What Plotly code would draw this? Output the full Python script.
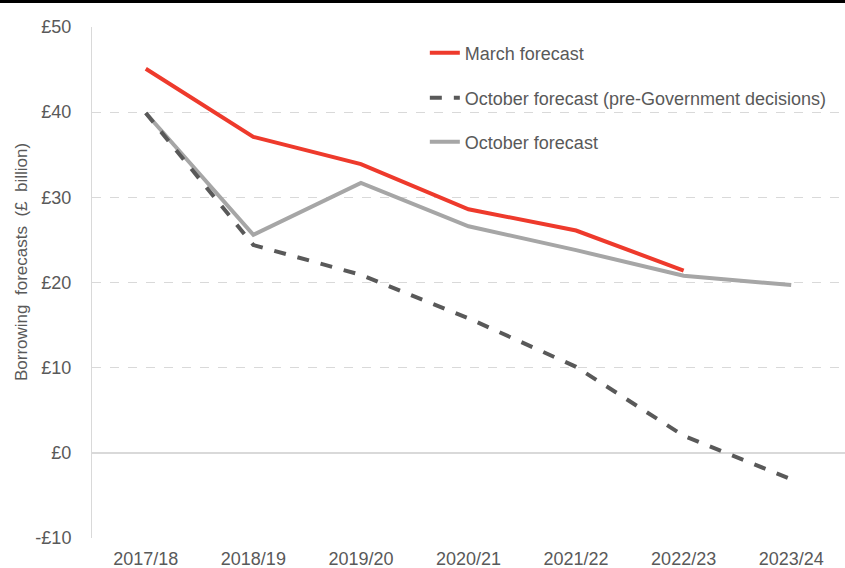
import plotly.graph_objects as go

years = ["2017/18", "2018/19", "2019/20", "2020/21", "2021/22", "2022/23", "2023/24"]
march = [45.1, 37.1, 33.9, 28.6, 26.1, 21.4, None]
october_pre = [39.9, 24.4, 20.9, 15.8, 10.1, 2.0, -3.1]
october = [39.9, 25.6, 31.7, 26.6, 23.8, 20.8, 19.7]

y_ticks = [-10, 0, 10, 20, 30, 40, 50]
y_labels = ["-£10", "£0", "£10", "£20", "£30", "£40", "£50"]

font = "Liberation Sans, Arial, sans-serif"
txt = "#595959"

fig = go.Figure()
fig.add_trace(go.Scatter(x=years, y=october, mode="lines", name="October forecast",
                         line=dict(color="#a6a6a6", width=4), legend="legend3"))
fig.add_trace(go.Scatter(x=years, y=october_pre, mode="lines",
                         name="October forecast (pre-Government decisions)",
                         line=dict(color="#595959", width=4, dash="dash"), legend="legend2"))
fig.add_trace(go.Scatter(x=years, y=march, mode="lines", name="March forecast",
                         line=dict(color="#ee3a2c", width=4), legend="legend"))

leg = dict(bgcolor="rgba(0,0,0,0)", font=dict(family=font, size=18, color=txt),
           xanchor="left", yanchor="middle", itemwidth=30, borderwidth=0)

fig.update_layout(
    width=845, height=568,
    margin=dict(l=92, r=0, t=27, b=30),
    plot_bgcolor="white", paper_bgcolor="white",
    showlegend=True,
    font=dict(family=font, size=18, color=txt),
    legend=dict(leg, x=0.442, y=(538 - 53) / 511),
    legend2=dict(leg, x=0.442, y=(538 - 98) / 511),
    legend3=dict(leg, x=0.442, y=(538 - 142) / 511),
    xaxis=dict(range=[-0.5, 6.5], showgrid=False, showline=False, automargin=False,
               ticks="outside", ticklen=4, tickcolor="rgba(0,0,0,0)",
               tickfont=dict(size=18, color=txt)),
    yaxis=dict(range=[-10, 50], tickvals=y_ticks, ticktext=y_labels, automargin=False,
               showgrid=True, gridcolor="#d9d9d9", griddash="dash", gridwidth=1,
               zeroline=True, zerolinecolor="#d9d9d9", zerolinewidth=1.5,
               showline=True, linecolor="#d9d9d9", linewidth=1,
               ticks="outside", ticklen=16, tickcolor="rgba(0,0,0,0)",
               tickfont=dict(size=18, color=txt)),
    annotations=[dict(text="Borrowing  forecasts  (£  billion)", xref="paper", yref="paper",
                      x=(21 - 92) / 753, y=(538 - 262) / 511, textangle=-90,
                      xanchor="center", yanchor="middle",
                      showarrow=False, font=dict(size=17, color=txt))],
    shapes=[dict(type="line", xref="paper", yref="paper",
                 x0=-92 / 753, x1=1.0, y0=1 + 25.5 / 511, y1=1 + 25.5 / 511,
                 line=dict(color="black", width=3))],
)

# page without body margin / scrollbars so the figure sits at the top-left corner
page_js = ("document.documentElement.style.overflow='hidden';"
           "document.body.style.overflow='hidden';"
           "document.body.style.margin='0px';"
           "document.body.style.height='568px';")
fig.write_html("out.html", config={"displayModeBar": False}, post_script=page_js)
